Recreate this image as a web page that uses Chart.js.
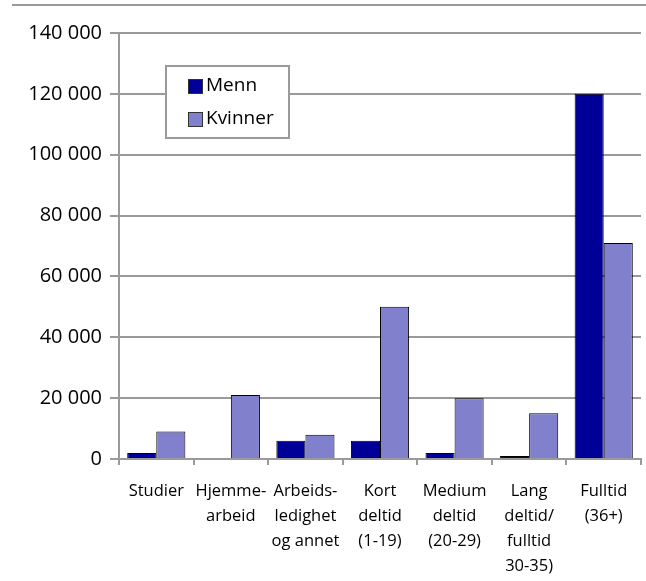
<!DOCTYPE html>
<html>
<head>
<meta charset="utf-8">
<script src="https://cdn.jsdelivr.net/npm/chart.js@4"></script>
<style>
  html, body { margin: 0; padding: 0; background: #ffffff; }
  #wrap { position: relative; width: 646px; height: 581px; }
  #topline { position: absolute; left: 12px; right: 0; top: 4px; height: 0; border-top: 2px solid #9a9a9a; }
  canvas { position: absolute; left: 0; top: 0; }
</style>
</head>
<body>
<div id="wrap">
  <canvas id="c" width="646" height="581"></canvas>
  <div id="topline"></div>
</div>
<script>
const categories = [
  ['Studier'],
  ['Hjemme-', 'arbeid'],
  ['Arbeids-', 'ledighet', 'og annet'],
  ['Kort', 'deltid', '(1-19)'],
  ['Medium', 'deltid', '(20-29)'],
  ['Lang', 'deltid/', 'fulltid', '30-35)'],
  ['Fulltid', '(36+)']
];
const seriesNames = ['Menn', 'Kvinner'];
const menn = [2000, 0, 6000, 6000, 2000, 1000, 120000];
const kvinner = [9000, 21000, 8000, 50000, 20000, 15000, 71000];
const yMin = 0, yMax = 140000, yStep = 20000;

const FONT = "'Open Sans', 'DejaVu Sans', sans-serif";
const fmt = v => String(v).replace(/\B(?=(\d{3})+(?!\d))/g, ' ');

const boxLegend = {
  id: 'boxLegend',
  afterDraw(chart) {
    const ctx = chart.ctx;
    const x0 = 166, y0 = 66, w = 123, h = 72;
    ctx.save();
    ctx.fillStyle = '#ffffff';
    ctx.fillRect(x0, y0, w, h);
    ctx.strokeStyle = '#9a9a9a';
    ctx.lineWidth = 2;
    ctx.strokeRect(x0, y0, w, h);
    ctx.font = '19px ' + FONT;
    ctx.textBaseline = 'middle';
    ctx.textAlign = 'left';
    chart.data.datasets.forEach((ds, i) => {
      const cy = 86 + i * 33;
      ctx.fillStyle = ds.backgroundColor;
      ctx.fillRect(188, cy - 7, 14, 14);
      ctx.strokeStyle = '#333333';
      ctx.lineWidth = 1;
      ctx.strokeRect(188.5, cy - 6.5, 14, 14);
      ctx.fillStyle = '#000000';
      ctx.fillText(ds.label, 206, cy);
    });
    ctx.restore();
  }
};

new Chart(document.getElementById('c'), {
  type: 'bar',
  data: {
    labels: categories,
    datasets: [
      { label: seriesNames[0], data: menn, backgroundColor: '#000099', borderColor: '#000000', borderWidth: 1 },
      { label: seriesNames[1], data: kvinner, backgroundColor: '#8080cc', borderColor: '#000000', borderWidth: 1 }
    ]
  },
  options: {
    responsive: false,
    animation: false,
    layout: { padding: { top: 33, right: 5, left: 0, bottom: 0 } },
    categoryPercentage: 0.78,
    barPercentage: 1.0,
    plugins: { legend: { display: false }, tooltip: { enabled: false } },
    scales: {
      x: {
        offset: true,
        grid: { display: true, offset: true, drawOnChartArea: false, color: '#9a9a9a', lineWidth: 2, tickLength: 6 },
        border: { color: '#9a9a9a', width: 2 },
        ticks: { color: '#000000', font: { family: FONT, size: 16.5, lineHeight: 1.52 }, padding: 14, maxRotation: 0, autoSkip: false },
        afterFit(axis) { axis.height = 581 - 459; }
      },
      y: {
        min: yMin, max: yMax,
        grid: { color: '#9a9a9a', lineWidth: 2, tickLength: 9 },
        border: { color: '#9a9a9a', width: 2 },
        ticks: { stepSize: yStep, color: '#000000', font: { family: FONT, size: 20 }, padding: 8, callback: v => fmt(v) },
        afterFit(axis) { axis.width = 119; }
      }
    }
  },
  plugins: [boxLegend]
});
</script>
</body>
</html>
